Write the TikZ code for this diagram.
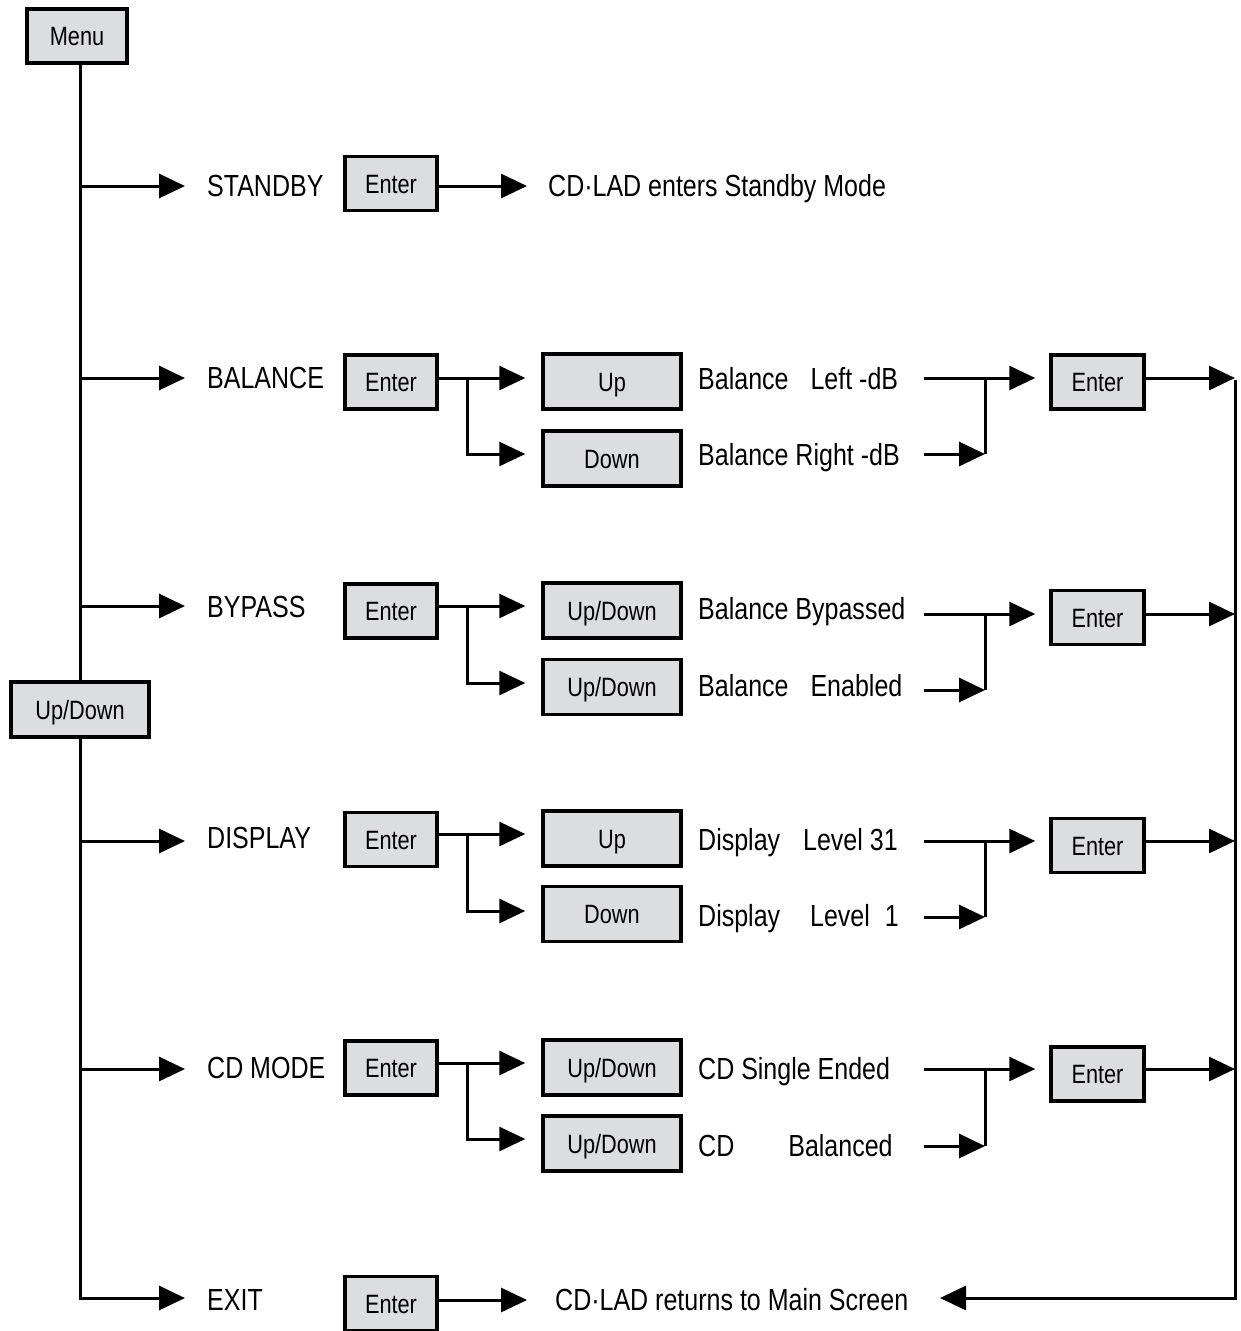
\documentclass[tikz,border=0pt]{standalone}
\usepackage{fontspec}
\setmainfont[FakeStretch=0.82]{Liberation Sans}
\usetikzlibrary{arrows.meta}
\definecolor{boxgray}{RGB}{220,221,223}
\tikzset{
  box/.style={draw=black, line width=3.5pt, fill=boxgray, inner sep=0pt,
    font=\fontsize{26.5}{26.5}\selectfont, text height=19pt, text depth=0pt},
  ebox/.style={box, minimum width=92pt, minimum height=54pt},
  wbox/.style={box, minimum width=138pt, minimum height=55pt},
  lbl/.style={anchor=west, inner sep=0pt, font=\fontsize{30.5}{30.5}\selectfont,
    text height=21.8pt, text depth=0pt},
  ln/.style={line width=3pt},
  conn/.style={ln, -{Triangle[length=26pt,width=24pt]}},
}
\begin{document}
\begin{tikzpicture}[x=1pt,y=-1pt]
\useasboundingbox (0,0) rectangle (1240,1331);

% left trunk
\node[box, minimum width=100pt, minimum height=54pt] (menu) at (77,36) {Menu};
\node[box, minimum width=138pt, minimum height=55pt] (ud) at (80,709.5) {Up/Down};
\coordinate (tbot) at (80,1298);
\draw[ln] (menu.south -| ud.north) -- (ud.north);
\draw[ln] (ud.south) -- (tbot);

% row labels
\node[lbl] (l1) at (207,186) {STANDBY};
\node[lbl] (l2) at (207,378) {BALANCE};
\node[lbl] (l3) at (207,607) {BYPASS};
\node[lbl] (l4) at (207,838) {DISPLAY};
\node[lbl] (l5) at (207,1068) {CD MODE};
\node[lbl] (l6) at (207,1300) {EXIT};

\coordinate (a1) at (80,186);
\coordinate (a2) at (80,378);
\coordinate (a3) at (80,606);
\coordinate (a4) at (80,841);
\coordinate (a5) at (80,1069);
\draw[conn] (a1) -- (185,186) coordinate (b1);
\draw[conn] (a2) -- (185,378) coordinate (b2);
\draw[conn] (a3) -- (185,606) coordinate (b3);
\draw[conn] (a4) -- (185,841) coordinate (b4);
\draw[conn] (a5) -- (185,1069) coordinate (b5);
\draw[conn] ([xshift=-1.5pt]tbot) -- (185,1298) coordinate (b6);

% first Enter boxes
\node[ebox] (e1) at (391,183.5) {Enter};
\node[ebox] (e2) at (391,382) {Enter};
\node[ebox] (e3) at (391,611) {Enter};
\node[ebox] (e4) at (391,839.5) {Enter};
\node[ebox] (e5) at (391,1068) {Enter};
\node[ebox] (e6) at (391,1303.5) {Enter};

% standby
\node[lbl] (t1) at (548,186) {CD·LAD enters Standby Mode};
\draw[conn] (e1.east |- 0,186) -- (527,186);
% exit
\node[lbl] (t6) at (555,1300) {CD·LAD returns to Main Screen};
\draw[conn] (e6.east |- 0,1300) -- (527,1300);

% option boxes
\node[wbox] (u2) at (612,381.5) {Up};
\node[wbox] (d2) at (612,458.5) {Down};
\node[wbox] (u3) at (612,610.5) {Up/Down};
\node[wbox] (d3) at (612,687) {Up/Down};
\node[wbox] (u4) at (612,838.5) {Up};
\node[wbox] (d4) at (612,914) {Down};
\node[wbox] (u5) at (612,1067.5) {Up/Down};
\node[wbox] (d5) at (612,1143.5) {Up/Down};

% branches from first Enter to option boxes
\foreach \r/\ya/\yb in {2/378/454, 3/606/683, 4/834/911, 5/1063/1139}{
  \draw[conn] (e\r.east |- 0,\ya) -- ([xshift=-16pt]u\r.west |- 0,\ya);
  \draw[conn] (467,\ya) -- (467,\yb) -- ([xshift=-16pt]d\r.west |- 0,\yb);
}

% option texts
\node[lbl] (p2) at (698,379) {Balance\hspace{22pt}Left -dB};
\node[lbl] (q2) at (698,455) {Balance Right -dB};
\node[lbl] (p3) at (698,609) {Balance Bypassed};
\node[lbl] (q3) at (698,686) {Balance\hspace{22pt}Enabled};
\node[lbl] (p4) at (698,840) {Display\hspace{23pt}Level 31};
\node[lbl] (q4) at (698,916) {Display\hspace{30pt}Level\hspace{15pt}1};
\node[lbl] (p5) at (698,1069) {CD Single Ended};
\node[lbl] (q5) at (698,1146) {CD\hspace{54pt}Balanced};

% second Enter boxes
\node[ebox, minimum width=93pt] (f2) at (1097.5,382) {Enter};
\node[ebox, minimum width=93pt] (f3) at (1097.5,617.5) {Enter};
\node[ebox, minimum width=93pt] (f4) at (1097.5,845.5) {Enter};
\node[ebox, minimum width=93pt] (f5) at (1097.5,1074) {Enter};

% merges and outputs
\foreach \r/\ya/\yb in {2/378/454, 3/614/690, 4/841/917, 5/1069/1146}{
  \draw[conn] (924,\ya) -- ([xshift=-14pt]f\r.west |- 0,\ya);
  \draw[conn] (924,\yb) -- (985,\yb);
  \draw[ln] (985,\yb) -- (985,\ya);
  \draw[conn] (f\r.east |- 0,\ya) -- (1235,\ya) coordinate (o\r);
}

% right return line
\coordinate (rb) at (1235,1298);
\coordinate (rt) at (940,1298);
\draw[ln] ([yshift=-1.5pt]o2) -- (rb);
\draw[conn] ([xshift=1.5pt]rb) -- (rt);
\end{tikzpicture}
\end{document}
